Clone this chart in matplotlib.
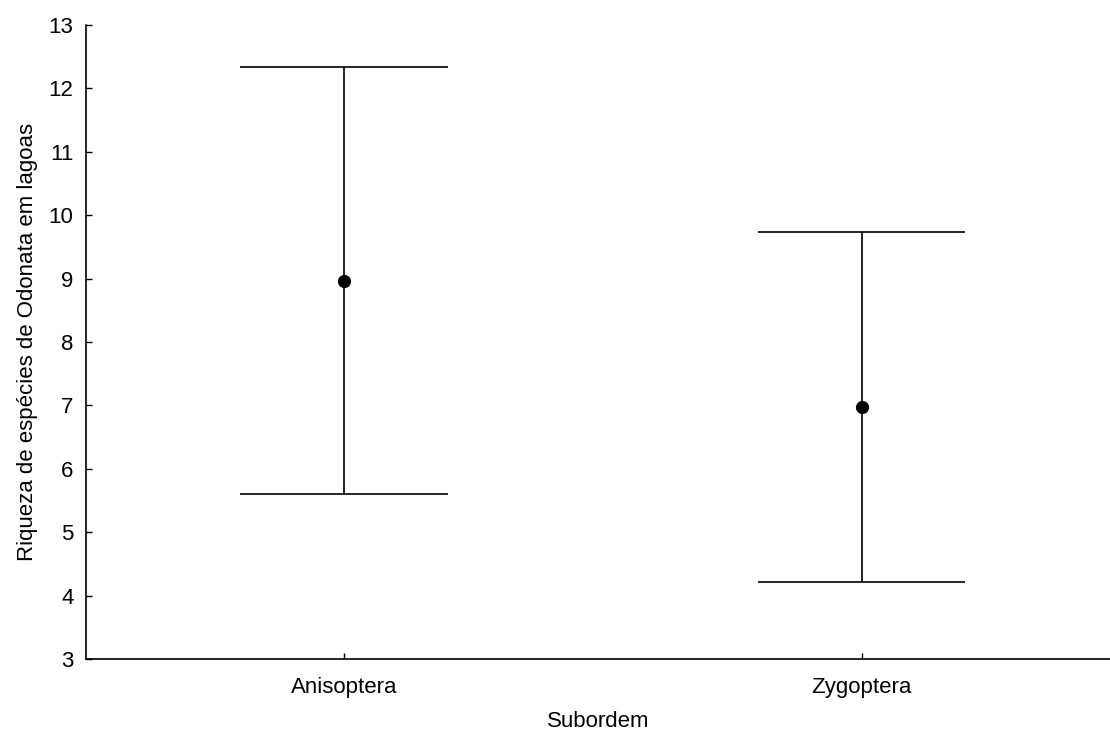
import matplotlib
matplotlib.use("Agg")
import matplotlib.pyplot as plt

categories = ["Anisoptera", "Zygoptera"]
means = [8.97, 6.98]
upper = [12.33, 9.74]
lower = [5.60, 4.22]

plt.rcParams['font.family'] = ['Liberation Sans', 'DejaVu Sans']

fig = plt.figure(figsize=(11.10, 7.31), dpi=100)
ax = fig.add_axes([86/1110, 72/731, 1 - 86/1110, (659-25)/731])

x = list(range(len(categories)))
cap = 0.2
for xi, m, lo, hi in zip(x, means, lower, upper):
    ax.vlines(xi, lo, hi, color='black', lw=1.2)
    ax.hlines([lo, hi], xi - cap, xi + cap, color='black', lw=1.2)
ax.plot(x, means, 'o', color='black', markersize=8.5, linestyle='none', zorder=3)

ax.set_xlim(-0.498, 1.479)
ax.set_ylim(3, 13)
ax.set_yticks(range(3, 14))
ax.set_xticks(x)
ax.set_xticklabels(categories)
ax.spines['top'].set_visible(False)
ax.spines['right'].set_visible(False)
for s in ['left', 'bottom']:
    ax.spines[s].set_linewidth(1.2)
ax.tick_params(axis='both', direction='in', length=4, width=1, labelsize=16)
ax.tick_params(axis='y', pad=9)
ax.tick_params(axis='x', pad=13)
ax.set_xlabel("Subordem", fontsize=16, labelpad=9)
ax.set_ylabel("Riqueza de espécies de Odonata em lagoas", fontsize=16, labelpad=8)

fig.savefig("out.png", dpi=100)
